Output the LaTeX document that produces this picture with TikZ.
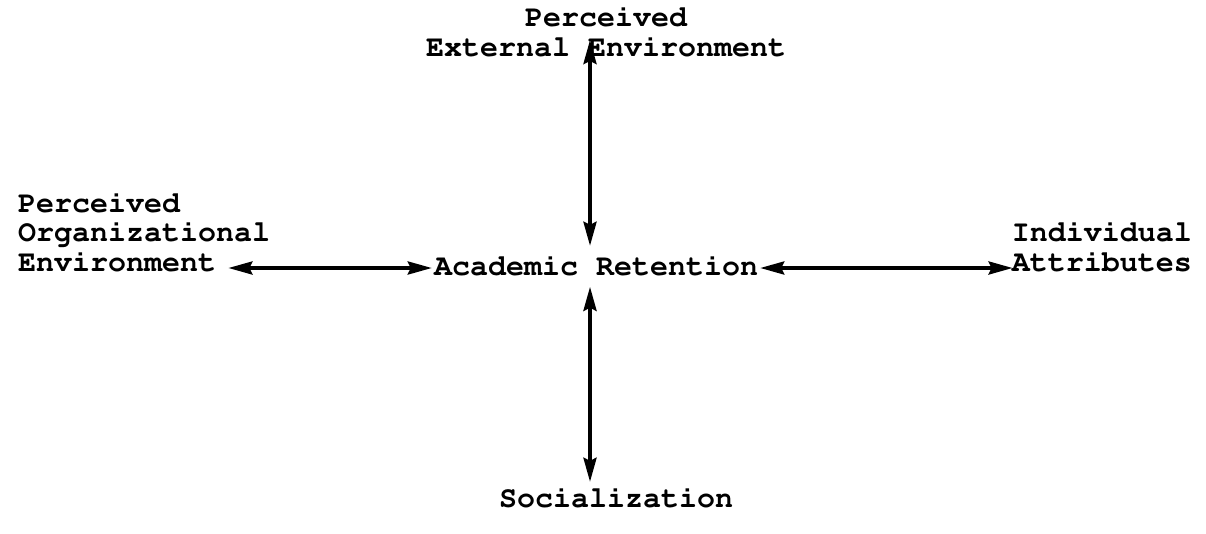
\documentclass[tikz,border=0pt]{standalone}
\usepackage[T1]{fontenc}
\usepackage{courier}
\usetikzlibrary{arrows.meta}
\tikzset{
  % A factor of the model, set in bold typewriter
  factor/.style={font=\fontsize{30}{29.5}\selectfont\ttfamily\bfseries, inner sep=0pt},
  % Two-way influence between two factors
  link/.style={{Stealth[length=24pt,width=13pt,inset=3pt]}-{Stealth[length=24pt,width=13pt,inset=3pt]},
    line width=3.6pt},
}

\begin{document}
\begin{tikzpicture}[x=1pt,y=-1pt]
  \useasboundingbox (0,0) rectangle (1206,533);

  \node[factor, anchor=base] (ret) at (596,275) {Academic Retention};
  \node[factor, align=center, anchor=south] (ext) at (606,57) {Perceived\\External Environment};
  \node[factor, align=left, anchor=south west] (org) at (18,272) {Perceived\\Organizational\\Environment};
  \node[factor, align=left, anchor=south east] (ind) at (1192,272) {Individual\\Attributes};
  \node[factor, anchor=base] (soc) at (616,507) {Socialization};

  \draw[link] ([xshift=-6pt,yshift=9pt]ret.north) -- ([xshift=-16pt,yshift=17pt]ext.south);
  \draw[link] ([xshift=-6pt,yshift=-11pt]ret.south) -- ([xshift=-26pt,yshift=5pt]soc.north);
  \draw[link] ([xshift=-2pt,yshift=7pt]ret.base west) -- ([xshift=-42pt,yshift=7pt]ret.base west -| org.east);
  \draw[link] ([xshift=2pt,yshift=7pt]ret.base east) -- ([xshift=1pt,yshift=7pt]ret.base east -| ind.west);

\end{tikzpicture}
\end{document}
